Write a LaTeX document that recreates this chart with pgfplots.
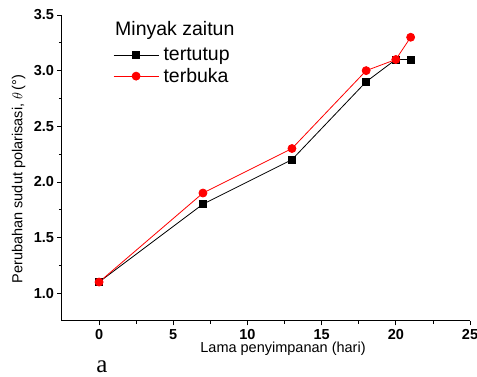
\documentclass[border=0pt]{standalone}
\usepackage{pgfplots}
\pgfplotsset{compat=1.18}
\usepackage{fontspec}
\setmainfont{Liberation Sans}
\newfontfamily\seriffont{Liberation Serif}
\usetikzlibrary{calc}

\begin{document}
\begin{tikzpicture}
\begin{axis}[
  scale only axis,
  width=408pt, height=306pt,
  xmin=-2.5, xmax=25,
  ymin=0.75, ymax=3.5,
  axis x line*=bottom,
  axis y line*=left,
  axis line style={line width=1pt},
  xtick={0,5,...,25},
  ytick={1,1.5,...,3.5},
  minor x tick num=1,
  minor y tick num=1,
  tick align=outside,
  major tick length=4.5pt,
  minor tick length=3pt,
  every tick/.style={line width=0.8pt, black},
  /pgf/number format/assume math mode=true,
  yticklabel style={/pgf/number format/fixed, /pgf/number format/fixed zerofill, /pgf/number format/precision=1},
  tick label style={font=\fontsize{14.5}{16}\selectfont\bfseries},
  xlabel={Lama penyimpanan (hari)},
  ylabel={Perubahan sudut polarisasi, $\theta$\,(°)},
  label style={font=\fontsize{14.5}{16}\selectfont},
  xlabel style={at={(axis description cs:0.5417,0)}, anchor=base, yshift=-32pt},
  % the y label is already turned by 90 degrees, so its yshift moves it left
  ylabel style={at={(axis description cs:0,0.464)}, anchor=base, yshift=39.5pt},
  legend style={
    at={(axis description cs:0.125,0.897)}, anchor=north west,
    draw=none, fill=none, inner sep=0pt, row sep=3pt,
    font=\fontsize{19.5}{21}\selectfont,
    nodes={inner sep=1.5pt}
  },
  legend cell align=left,
  legend image code/.code={
    \draw[mark repeat=2, mark phase=2, #1]
      plot coordinates {(0pt,0pt) (22.5pt,0pt) (45pt,0pt)};
  },
]
% tertutup (closed container)
\addplot[black, line width=0.8pt, mark=square*, mark size=3.5pt, mark options={fill=black}]
  coordinates {(0,1.1) (7,1.8) (13,2.2) (18,2.9) (20,3.1) (21,3.1)};
\addlegendentry{\hspace{3pt}tertutup}
% terbuka (open container)
\addplot[red, line width=0.8pt, mark=*, mark size=4pt, mark options={fill=red}]
  coordinates {(0,1.1) (7,1.9) (13,2.3) (18,3.0) (20,3.1) (21,3.3)};
\addlegendentry{\hspace{3pt}terbuka}
\end{axis}
\node[anchor=base west, inner sep=0pt, font=\fontsize{19.5}{21}\selectfont]
  at ($(current axis.north west)+(53pt,-21pt)$) {Minyak zaitun};
\node[anchor=base, inner sep=0pt, font=\seriffont\fontsize{25}{28}\selectfont]
  at ($(current axis.south west)+(40pt,-52pt)$) {a};
\pgfresetboundingbox
\useasboundingbox ($(current axis.south west)+(-62pt,-56pt)$) rectangle ($(current axis.north east)+(7pt,15pt)$);
\end{tikzpicture}
\end{document}
